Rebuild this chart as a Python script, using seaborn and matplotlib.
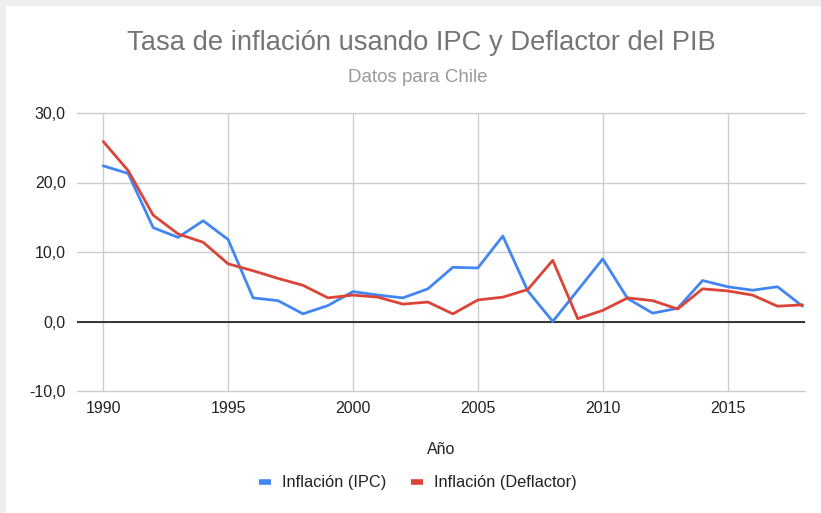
import pandas as pd
import matplotlib.pyplot as plt
import seaborn as sns
from matplotlib.patches import Rectangle
from matplotlib.ticker import FuncFormatter

years = list(range(1990, 2019))
ipc = [22.4, 21.3, 13.5, 12.1, 14.5, 11.8, 3.4, 3.0, 1.1, 2.3,
       4.3, 3.8, 3.4, 4.7, 7.8, 7.7, 12.3, 4.4, 0.0, 4.5,
       9.0, 3.3, 1.2, 1.9, 5.9, 5.0, 4.5, 5.0, 2.2]
deflactor = [25.9, 21.7, 15.3, 12.6, 11.4, 8.3, 7.3, 6.2, 5.2, 3.4,
             3.8, 3.5, 2.5, 2.8, 1.1, 3.1, 3.5, 4.6, 8.8, 0.4,
             1.6, 3.4, 3.0, 1.8, 4.7, 4.4, 3.8, 2.2, 2.4]
series_names = ['Inflación (IPC)', 'Inflación (Deflactor)']
colors = ['#4285F4', '#DB4437']


def main():
    df = pd.DataFrame({
        'Año': years * 2,
        'valor': ipc + deflactor,
        'serie': [series_names[0]] * len(years) + [series_names[1]] * len(years),
    })

    sns.set_theme(style='white')
    plt.rcParams['font.family'] = ['Liberation Sans', 'DejaVu Sans']

    fig = plt.figure(figsize=(8.21, 5.13), dpi=100)
    fig.patch.set_facecolor('#eeeeee')
    # white card with thin gray margin at top and left
    fig.patches.append(Rectangle((6 / 821, 0), 1, 1 - 6 / 513, transform=fig.transFigure,
                                 facecolor='white', edgecolor='none', zorder=-5))

    ax = fig.add_axes([77 / 821, 1 - 391 / 513, (805 - 77) / 821, (391 - 113) / 513])
    ax.set_facecolor('white')

    sns.lineplot(data=df, x='Año', y='valor', hue='serie', palette=colors,
                 linewidth=2.0, ax=ax, legend=False)

    ax.set_xlim(1988.95, 2018.1)
    ax.set_ylim(-10, 30)
    ax.set_xticks([1990, 1995, 2000, 2005, 2010, 2015])
    ax.set_yticks([-10, 0, 10, 20, 30])
    ax.yaxis.set_major_formatter(FuncFormatter(lambda v, p: f'{v:.1f}'.replace('.', ',')))

    ax.grid(True, color='#cccccc', linewidth=1.0)
    for gl in ax.get_ygridlines():
        gl.set_clip_on(False)
    ax.axhline(0, color='#333333', linewidth=1.4, zorder=1.5)
    for s in ax.spines.values():
        s.set_visible(False)
    ax.tick_params(axis='both', length=0, labelsize=11.5, labelcolor='#222222')
    ax.tick_params(axis='y', pad=8)
    ax.tick_params(axis='x', pad=7)

    ax.set_xlabel('Año', fontsize=11.5, color='#222222', labelpad=19)
    ax.set_ylabel('')

    fig.text(421 / 821, 1 - 43 / 513, 'Tasa de inflación usando IPC y Deflactor del PIB',
             ha='center', va='center', fontsize=19.7, color='#757575')
    fig.text(417.5 / 821, 1 - 77 / 513, 'Datos para Chile',
             ha='center', va='center', fontsize=13.5, color='#999999')

    handles = [plt.Line2D([], [], color=c, linewidth=4, solid_capstyle='butt') for c in colors]
    fig.legend(handles, series_names, loc='center', bbox_to_anchor=(418 / 821, 1 - 483 / 513),
               ncol=2, frameon=False, fontsize=11.8, handlelength=0.7, handletextpad=0.7,
               columnspacing=1.5, labelcolor='#222222')

    fig.savefig('out.png', dpi=100, facecolor=fig.get_facecolor())
    plt.close(fig)


if __name__ == '__main__':
    main()
